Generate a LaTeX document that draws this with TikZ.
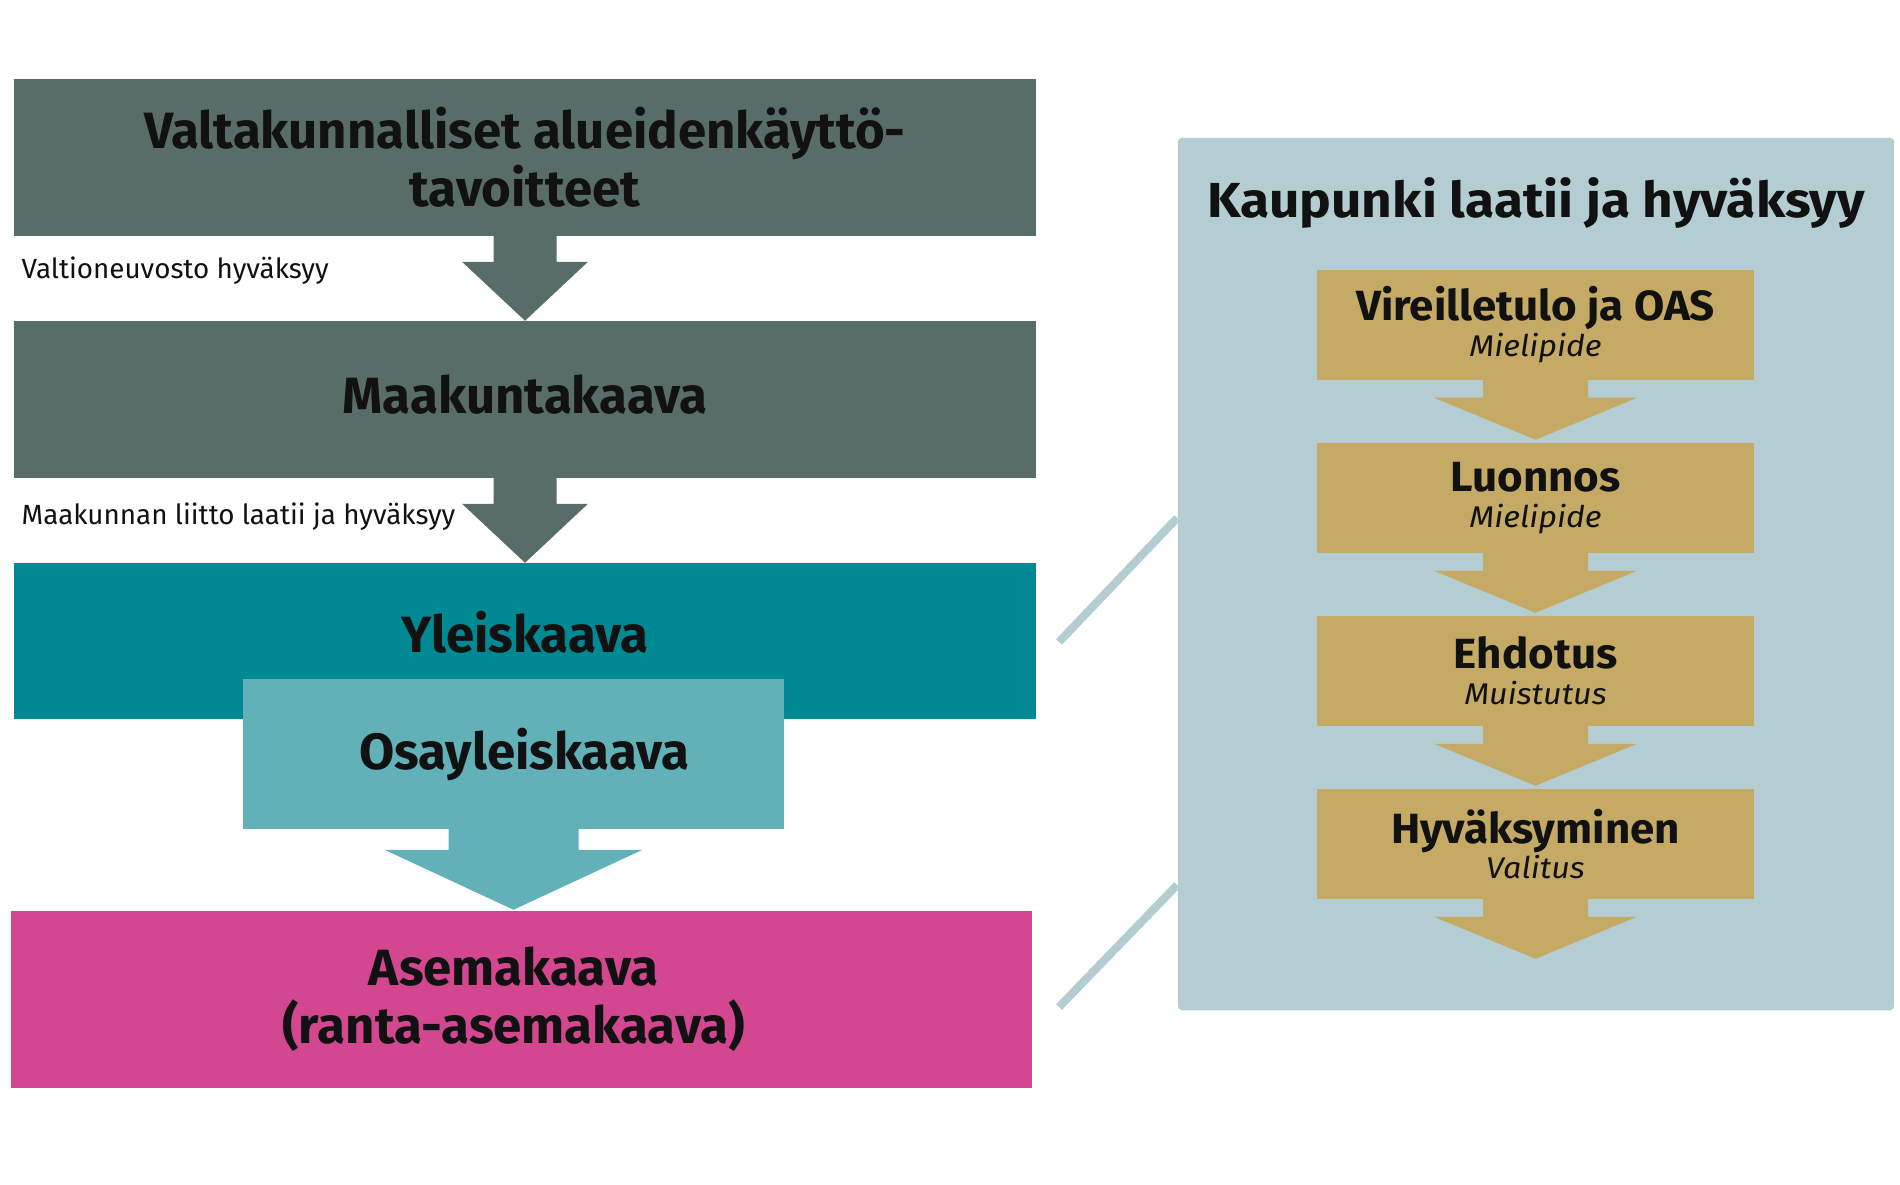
\documentclass[tikz,border=0pt]{standalone}
\usepackage{fontspec}
\setmainfont{Fira Sans}
\newfontfamily\levea[FakeStretch=1.08]{Fira Sans}
\newfontfamily\vaihefontti[FakeStretch=1.04]{Fira Sans}
\usetikzlibrary{positioning,calc}

\definecolor{kaavaharmaa}{HTML}{586D68}
\definecolor{yleisturkoosi}{HTML}{008893}
\definecolor{osaturkoosi}{HTML}{62B1B9}
\definecolor{asemapinkki}{HTML}{D2478F}
\definecolor{paneelisini}{HTML}{B3CDD2}
\definecolor{vaihekulta}{HTML}{C5AA66}
\definecolor{teksti}{HTML}{111111}

\newcommand{\ala}{\levea\mdseries\itshape\fontsize{8.5}{10.2}\selectfont}

% nuoli: solmu, varren puolileveys, karjen puolileveys, varren pituus, karjen pituus, vari
\newcommand{\nuoli}[6]{%
  \fill[#6] ($(#1.south)+(-#2,-1)$) -- ($(#1.south)+(-#2,#4)$) -- ($(#1.south)+(-#3,#4)$)
    -- ($(#1.south)+(0,#4+#5)$) -- ($(#1.south)+(#3,#4)$) -- ($(#1.south)+(#2,#4)$)
    -- ($(#1.south)+(#2,-1)$) -- cycle;}

\begin{document}
\begin{tikzpicture}[x=0.01cm,y=-0.01cm,
    kaava/.style={minimum width=10.22cm, inner sep=0, text=teksti, align=center,
      font=\bfseries\fontsize{14.5}{16.5}\selectfont},
    selite/.style={anchor=west, inner sep=0, text=teksti,
      font=\fontsize{7.9}{10}\selectfont},
    vaihe/.style={fill=vaihekulta, minimum width=4.37cm, minimum height=1.10cm, inner sep=0,
      text=teksti, align=center, font=\vaihefontti\bfseries\fontsize{12}{10.2}\selectfont},
    yhteys/.style={draw=paneelisini, line width=2.3pt}]
    \useasboundingbox (0,0) rectangle (1900,1184);

    % vasen puoli
    \node[kaava, fill=kaavaharmaa, minimum height=1.57cm] (valta) at (525,157.5)
        {Valtakunnalliset alueidenkäyttö-\\tavoitteet};
    \node[kaava, fill=kaavaharmaa, minimum height=1.57cm] (maak) at (525,399.5) {};
    \node[kaava] (maakteksti) at ($(maak.center)+(0,-5)$) {Maakuntakaava};
    \node[kaava, fill=yleisturkoosi, minimum height=1.56cm] (yleis) at (525,641) {};
    \node[kaava] (yleisteksti) at ($(yleis.center)+(0,-9)$) {Yleiskaava};
    \node[kaava, fill=osaturkoosi, minimum width=5.41cm, minimum height=1.50cm] (osa) at (513.5,754) {};
    \node[kaava, minimum width=0] (osateksti) at ($(osa.center)+(11,0)$) {Osayleiskaava};
    \node[kaava, fill=asemapinkki, minimum width=10.21cm, minimum height=1.77cm] (ase) at (521.5,999.5) {};
    \node[kaava, minimum width=0] (aseteksti) at ($(ase.center)+(-8,0)$)
        {Asemakaava\\(ranta-asemakaava)};

    \nuoli{valta}{31.5}{63}{25}{59}{kaavaharmaa}
    \nuoli{maak}{31.5}{63}{25}{59}{kaavaharmaa}
    \nuoli{osa}{65}{129}{20}{60}{osaturkoosi}

    \node[selite] (valtioneuvosto) at (21,271) {Valtioneuvosto hyväksyy};
    \node[selite] (maakliitto) at (21,517) {Maakunnan liitto laatii ja hyväksyy};

    % oikea puoli
    \node[fill=paneelisini, rounded corners=1.2pt, minimum width=7.16cm, minimum height=8.72cm,
        inner sep=0] (kaupunki) at (1536,574) {};
    \node[text=teksti, font=\levea\bfseries\fontsize{14}{16}\selectfont] (kotsikko) at (1536,203)
        {Kaupunki laatii ja hyväksyy};

    \node[vaihe] (vireille) at (1535.5,325) {Vireilletulo ja OAS\\{\ala Mielipide}};
    \node[vaihe, below=0.615cm of vireille] (luonnos) {Luonnos\\{\ala Mielipide}};
    \node[vaihe, below=0.615cm of luonnos] (ehdotus) {Ehdotus\\{\ala Muistutus}};
    \node[vaihe, below=0.615cm of ehdotus] (hyvaks) {Hyväksyminen\\{\ala Valitus}};

    \foreach \v in {vireille,luonnos,ehdotus,hyvaks}
        \nuoli{\v}{52.5}{101.5}{17}{42}{vaihekulta};

    \draw[yhteys] ($(yleis.east)+(22,1)$) -- ($(kaupunki.west)+(0,-56)$);
    \draw[yhteys] ($(ase.east)+(26,7.5)$) -- ($(kaupunki.west)+(0,311)$);
\end{tikzpicture}
\end{document}
